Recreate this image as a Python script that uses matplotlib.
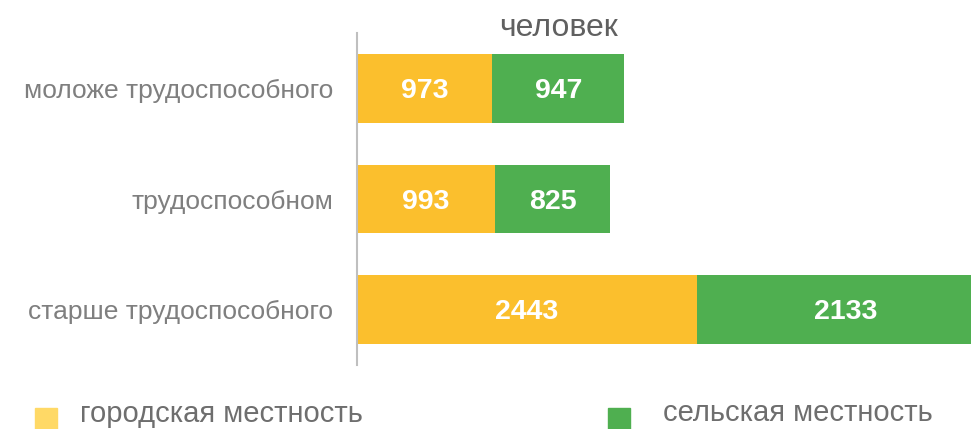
import matplotlib.pyplot as plt
import numpy as np

categories = ['моложе трудоспособного', 'трудоспособном', 'старше трудоспособного']
urban = [973, 993, 2443]
rural = [947, 825, 2133]
legend_urban = 'городская местность'
legend_rural = 'сельская местность'
subtitle = 'человек'

col_urban = '#FBBF2D'
col_urban_legend = '#FFD966'
col_rural = '#4FAF50'
grey_cat = '#7F7F7F'
grey_leg = '#6E6E6E'
grey_sub = '#606060'

plt.rcParams['font.family'] = ['Liberation Sans', 'DejaVu Sans']

fig = plt.figure(figsize=(9.71, 4.29), dpi=100)
ax = fig.add_axes([357 / 971, 64 / 429, 1 - 357 / 971, 332 / 429])

y = np.arange(len(categories))
ax.barh(y, urban, height=0.62, color=col_urban)
ax.barh(y, rural, left=urban, height=0.62, color=col_rural)

for i in range(len(categories)):
    ax.text(urban[i] / 2, y[i] + 0.088, str(urban[i]), ha='center', va='baseline',
            color='white', fontsize=20.5, fontweight='bold')
    ax.text(urban[i] + rural[i] / 2, y[i] + 0.088, str(rural[i]), ha='center', va='baseline',
            color='white', fontsize=20.5, fontweight='bold')

ax.set_ylim(2.5, -0.5)
ax.set_xlim(0, 4410)
ax.set_yticks(y)
ax.set_yticklabels(categories, fontsize=19, color=grey_cat)
ax.tick_params(axis='y', length=0, pad=17)
ax.set_xticks([])
for s in ['top', 'right', 'bottom']:
    ax.spines[s].set_visible(False)
ax.spines['left'].set_color('#BFBFBF')
ax.spines['left'].set_linewidth(1.5)

fig.text(558 / 971, 1 - 36 / 429, subtitle, ha='center', va='baseline', fontsize=23, color=grey_sub)

# legend drawn by hand
fig.patches.append(plt.Rectangle((35 / 971, 0), 22 / 971, 21 / 429, color=col_urban_legend,
                                 transform=fig.transFigure, figure=fig))
fig.text(80 / 971, 7 / 429, legend_urban, ha='left', va='baseline', fontsize=21, color=grey_leg)
fig.patches.append(plt.Rectangle((608 / 971, 0), 22 / 971, 21 / 429, color=col_rural,
                                 transform=fig.transFigure, figure=fig))
fig.text(663 / 971, 8 / 429, legend_rural, ha='left', va='baseline', fontsize=21, color=grey_leg)

fig.savefig('out.png', dpi=100)
